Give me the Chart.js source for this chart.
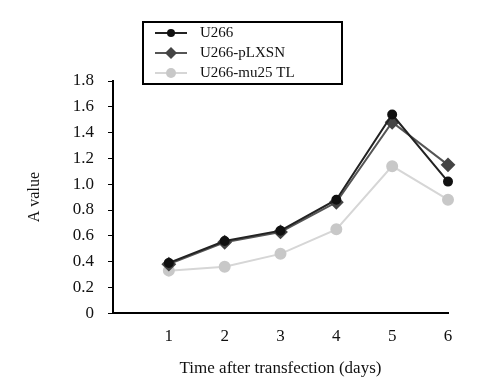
<!DOCTYPE html>
<html>
<head>
<meta charset="utf-8">
<script src="https://cdn.jsdelivr.net/npm/chart.js@4.4.0/dist/chart.umd.min.js"></script>
<style>
  html, body { margin: 0; padding: 0; background: #fff; }
  #wrap { width: 486px; height: 385px; }
</style>
</head>
<body>
<div id="wrap"><canvas id="chart" width="486" height="385"></canvas></div>
<script>
// Values
const days = [1, 2, 3, 4, 5, 6];
const u266 = [0.39, 0.56, 0.64, 0.88, 1.54, 1.02];
const u266Vector = [0.38, 0.55, 0.63, 0.86, 1.48, 1.15];
const u266Mutant = [0.33, 0.36, 0.46, 0.65, 1.14, 0.88];
const seriesNames = ['U266', 'U266-pLXSN', 'U266-mu25 TL'];
const yTicks = [0, 0.2, 0.4, 0.6, 0.8, 1.0, 1.2, 1.4, 1.6, 1.8];

const FONT = 'Liberation Serif';

function toPoints(vals) {
  return days.map((d, i) => ({ x: d, y: vals[i] }));
}

// Boxed legend sitting over the top of the plot
const boxLegend = {
  id: 'boxLegend',
  afterDraw(chart) {
    const ctx = chart.ctx;
    const x0 = 143, y0 = 22, w = 199, h = 62;
    ctx.save();
    ctx.fillStyle = '#fff';
    ctx.fillRect(x0, y0, w, h);
    ctx.strokeStyle = '#000';
    ctx.lineWidth = 2;
    ctx.strokeRect(x0, y0, w, h);
    chart.data.datasets.forEach((ds, i) => {
      const cy = y0 + 11 + i * 20;
      ctx.strokeStyle = ds.borderColor;
      ctx.lineWidth = 2;
      ctx.beginPath();
      ctx.moveTo(155, cy);
      ctx.lineTo(187, cy);
      ctx.stroke();
      ctx.fillStyle = ds.pointBackgroundColor;
      ctx.beginPath();
      const r = ds.pointRadius;
      if (ds.pointStyle === 'rectRot') {
        ctx.moveTo(171, cy - r); ctx.lineTo(171 + r, cy);
        ctx.lineTo(171, cy + r); ctx.lineTo(171 - r, cy);
        ctx.closePath();
      } else {
        ctx.arc(171, cy, r, 0, Math.PI * 2);
      }
      ctx.fill();
      ctx.fillStyle = '#111';
      ctx.font = '15px "' + FONT + '"';
      ctx.textBaseline = 'middle';
      ctx.fillText(seriesNames[i], 200, cy);
    });
    ctx.restore();
  }
};

new Chart(document.getElementById('chart'), {
  type: 'line',
  data: {
    datasets: [
      {
        label: seriesNames[0],
        data: toPoints(u266),
        borderColor: '#222',
        pointBackgroundColor: '#111',
        pointBorderColor: '#111',
        pointRadius: 4,
        pointStyle: 'circle',
        borderWidth: 2,
        tension: 0,
        clip: false
      },
      {
        label: seriesNames[1],
        data: toPoints(u266Vector),
        borderColor: '#555',
        pointBackgroundColor: '#444',
        pointBorderColor: '#444',
        pointRadius: 6,
        pointStyle: 'rectRot',
        borderWidth: 2,
        tension: 0,
        clip: false
      },
      {
        label: seriesNames[2],
        data: toPoints(u266Mutant),
        borderColor: '#d6d6d6',
        pointBackgroundColor: '#c8c8c8',
        pointBorderColor: '#c8c8c8',
        pointRadius: 5,
        pointStyle: 'circle',
        borderWidth: 2,
        tension: 0,
        clip: false
      }
    ]
  },
  options: {
    responsive: false,
    animation: false,
    layout: { padding: { left: 25, right: 38, top: 81, bottom: 2 } },
    plugins: {
      legend: { display: false },
      tooltip: { enabled: false }
    },
    scales: {
      x: {
        type: 'linear',
        min: 0,
        max: 6,
        afterBuildTicks(scale) {
          scale.ticks = days.map(v => ({ value: v }));
        },
        grid: { display: false, drawOnChartArea: false, drawTicks: true, tickLength: 5, tickColor: '#000' },
        border: { display: true, color: '#000', width: 2 },
        ticks: { color: '#111', font: { family: FONT, size: 17 }, padding: 8 },
        title: {
          display: true,
          text: 'Time after transfection (days)',
          color: '#111',
          font: { family: FONT, size: 17 },
          padding: { top: 4 }
        }
      },
      y: {
        min: 0,
        max: 1.8,
        afterBuildTicks(scale) {
          scale.ticks = yTicks.map(v => ({ value: v }));
        },
        afterFit(scale) { scale.width = 88; },
        grid: { display: true, drawOnChartArea: false, drawTicks: true, tickLength: 5, tickColor: '#000' },
        border: { display: true, color: '#000', width: 2 },
        ticks: {
          color: '#111',
          font: { family: FONT, size: 17 },
          padding: 14,
          callback: v => (v === 0 ? '0' : v.toFixed(1))
        },
        title: {
          display: true,
          text: 'A value',
          color: '#111',
          font: { family: FONT, size: 16 },
          padding: 0
        }
      }
    }
  },
  plugins: [boxLegend]
});
</script>
</body>
</html>
